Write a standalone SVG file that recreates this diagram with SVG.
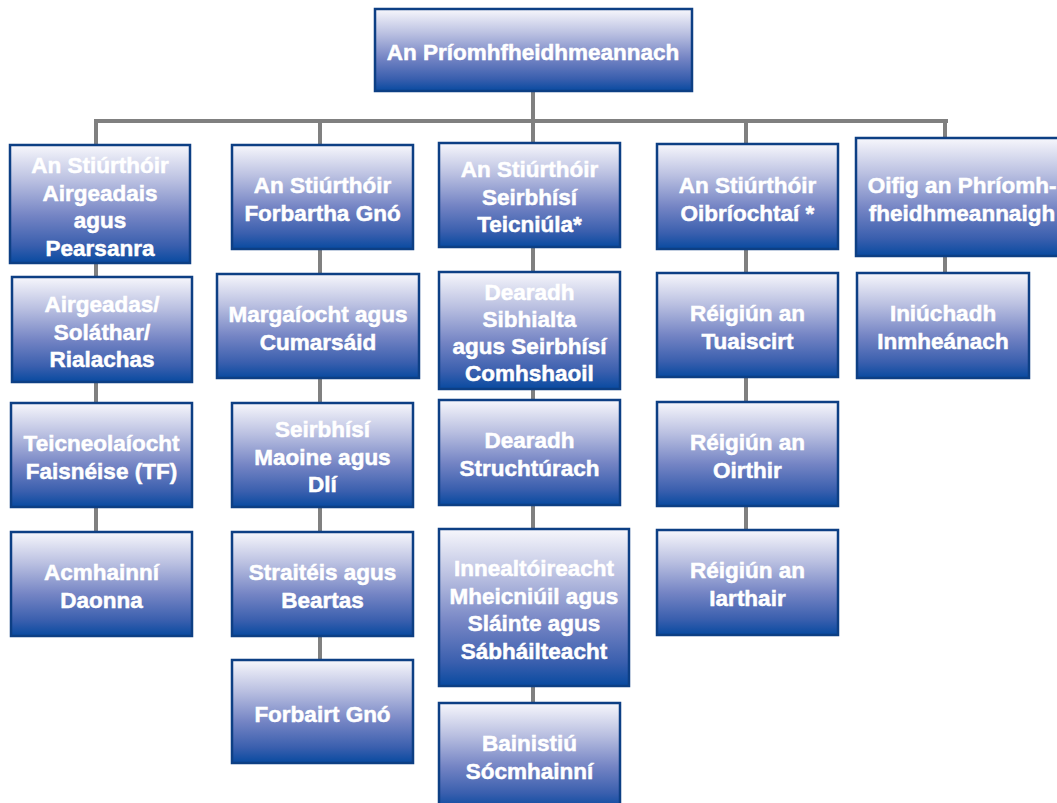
<svg xmlns="http://www.w3.org/2000/svg" width="1057" height="803" viewBox="0 0 1057 803">
<defs>
<linearGradient id="g" x1="0" y1="0" x2="0" y2="1">
<stop offset="0" stop-color="#f7f7fc"/>
<stop offset="0.3" stop-color="#bac0e1"/>
<stop offset="0.6" stop-color="#7484c4"/>
<stop offset="0.85" stop-color="#3a5fae"/>
<stop offset="1" stop-color="#084aa0"/>
</linearGradient>
</defs>
<style>
.b{fill:url(#g);stroke:#0d3f84;stroke-width:2.5}
.t{font-family:"Liberation Sans",Arial,sans-serif;font-weight:bold;font-size:22.5px;fill:#fff;stroke:#fff;stroke-width:0.5;text-anchor:middle}
.c{stroke:#808080;stroke-width:4;fill:none}
</style>
<rect width="1057" height="803" fill="#fff"/>
<g id="connectors">
<path class="c" d="M533 91V121M94 121H948M96 121V532M320 121V660M533 121V703M746 121V530M945 121V273"/>
</g>
<g id="ceo"><rect class="b" x="375" y="9" width="317" height="82"/><text class="t" x="533" y="60">An Príomhfheidhmeannach</text></g>

<g id="c1b1"><rect class="b" x="10" y="145" width="180" height="118"/><text class="t" x="100" y="173">An Stiúrthóir<tspan x="100" dy="27.5">Airgeadais</tspan><tspan x="100" dy="27.5">agus</tspan><tspan x="100" dy="27.5">Pearsanra</tspan></text></g>
<g id="c1b2"><rect class="b" x="12" y="277" width="180" height="105"/><text class="t" x="102" y="312">Airgeadas/<tspan x="102" dy="27.5">Soláthar/</tspan><tspan x="102" dy="27.5">Rialachas</tspan></text></g>
<g id="c1b3"><rect class="b" x="11" y="403" width="181" height="104"/><text class="t" x="101.5" y="451">Teicneolaíocht<tspan x="101.5" dy="27.5">Faisnéise (TF)</tspan></text></g>
<g id="c1b4"><rect class="b" x="11" y="532" width="181" height="104"/><text class="t" x="101.5" y="580">Acmhainní<tspan x="101.5" dy="27.5">Daonna</tspan></text></g>

<g id="c2b1"><rect class="b" x="232" y="145" width="181" height="104"/><text class="t" x="322.5" y="193">An Stiúrthóir<tspan x="322.5" dy="27.5">Forbartha Gnó</tspan></text></g>
<g id="c2b2"><rect class="b" x="217" y="274" width="202" height="104"/><text class="t" x="318" y="322">Margaíocht agus<tspan x="318" dy="27.5">Cumarsáid</tspan></text></g>
<g id="c2b3"><rect class="b" x="232" y="403" width="181" height="104"/><text class="t" x="322.5" y="437">Seirbhísí<tspan x="322.5" dy="27.5">Maoine agus</tspan><tspan x="322.5" dy="27.5">Dlí</tspan></text></g>
<g id="c2b4"><rect class="b" x="232" y="532" width="181" height="104"/><text class="t" x="322.5" y="580">Straitéis agus<tspan x="322.5" dy="27.5">Beartas</tspan></text></g>
<g id="c2b5"><rect class="b" x="232" y="660" width="181" height="103"/><text class="t" x="322.5" y="722">Forbairt Gnó</text></g>

<g id="c3b1"><rect class="b" x="439" y="143" width="181" height="104"/><text class="t" x="529.5" y="177">An Stiúrthóir<tspan x="529.5" dy="27.5">Seirbhísí</tspan><tspan x="529.5" dy="27.5">Teicniúla*</tspan></text></g>
<g id="c3b2"><rect class="b" x="439" y="272" width="181" height="117"/><text class="t" x="529.5" y="300">Dearadh<tspan x="529.5" dy="27">Sibhialta</tspan><tspan x="529.5" dy="27">agus Seirbhísí</tspan><tspan x="529.5" dy="27">Comhshaoil</tspan></text></g>
<g id="c3b3"><rect class="b" x="439" y="400" width="181" height="105"/><text class="t" x="529.5" y="448">Dearadh<tspan x="529.5" dy="27.5">Struchtúrach</tspan></text></g>
<g id="c3b4"><rect class="b" x="439" y="529" width="190" height="157"/><text class="t" x="534" y="576">Innealtóireacht<tspan x="534" dy="27.5">Mheicniúil agus</tspan><tspan x="534" dy="27.5">Sláinte agus</tspan><tspan x="534" dy="27.5">Sábháilteacht</tspan></text></g>
<g id="c3b5"><rect class="b" x="439" y="703" width="181" height="106"/><text class="t" x="529.5" y="751">Bainistiú<tspan x="529.5" dy="27.5">Sócmhainní</tspan></text></g>

<g id="c4b1"><rect class="b" x="657" y="144" width="181" height="105"/><text class="t" x="747.5" y="193">An Stiúrthóir<tspan x="747.5" dy="27.5">Oibríochtaí *</tspan></text></g>
<g id="c4b2"><rect class="b" x="657" y="273" width="181" height="104"/><text class="t" x="747.5" y="321">Réigiún an<tspan x="747.5" dy="27.5">Tuaiscirt</tspan></text></g>
<g id="c4b3"><rect class="b" x="657" y="402" width="181" height="104"/><text class="t" x="747.5" y="450">Réigiún an<tspan x="747.5" dy="27.5">Oirthir</tspan></text></g>
<g id="c4b4"><rect class="b" x="657" y="530" width="181" height="105"/><text class="t" x="747.5" y="578">Réigiún an<tspan x="747.5" dy="27.5">Iarthair</tspan></text></g>

<g id="c5b1"><rect class="b" x="856" y="138" width="214" height="118"/><text class="t" x="962" y="193">Oifig an Phríomh-<tspan x="962" dy="27.5">fheidhmeannaigh</tspan></text></g>
<g id="c5b2"><rect class="b" x="857" y="273" width="172" height="105"/><text class="t" x="943" y="321">Iniúchadh<tspan x="943" dy="27.5">Inmheánach</tspan></text></g>
</svg>
